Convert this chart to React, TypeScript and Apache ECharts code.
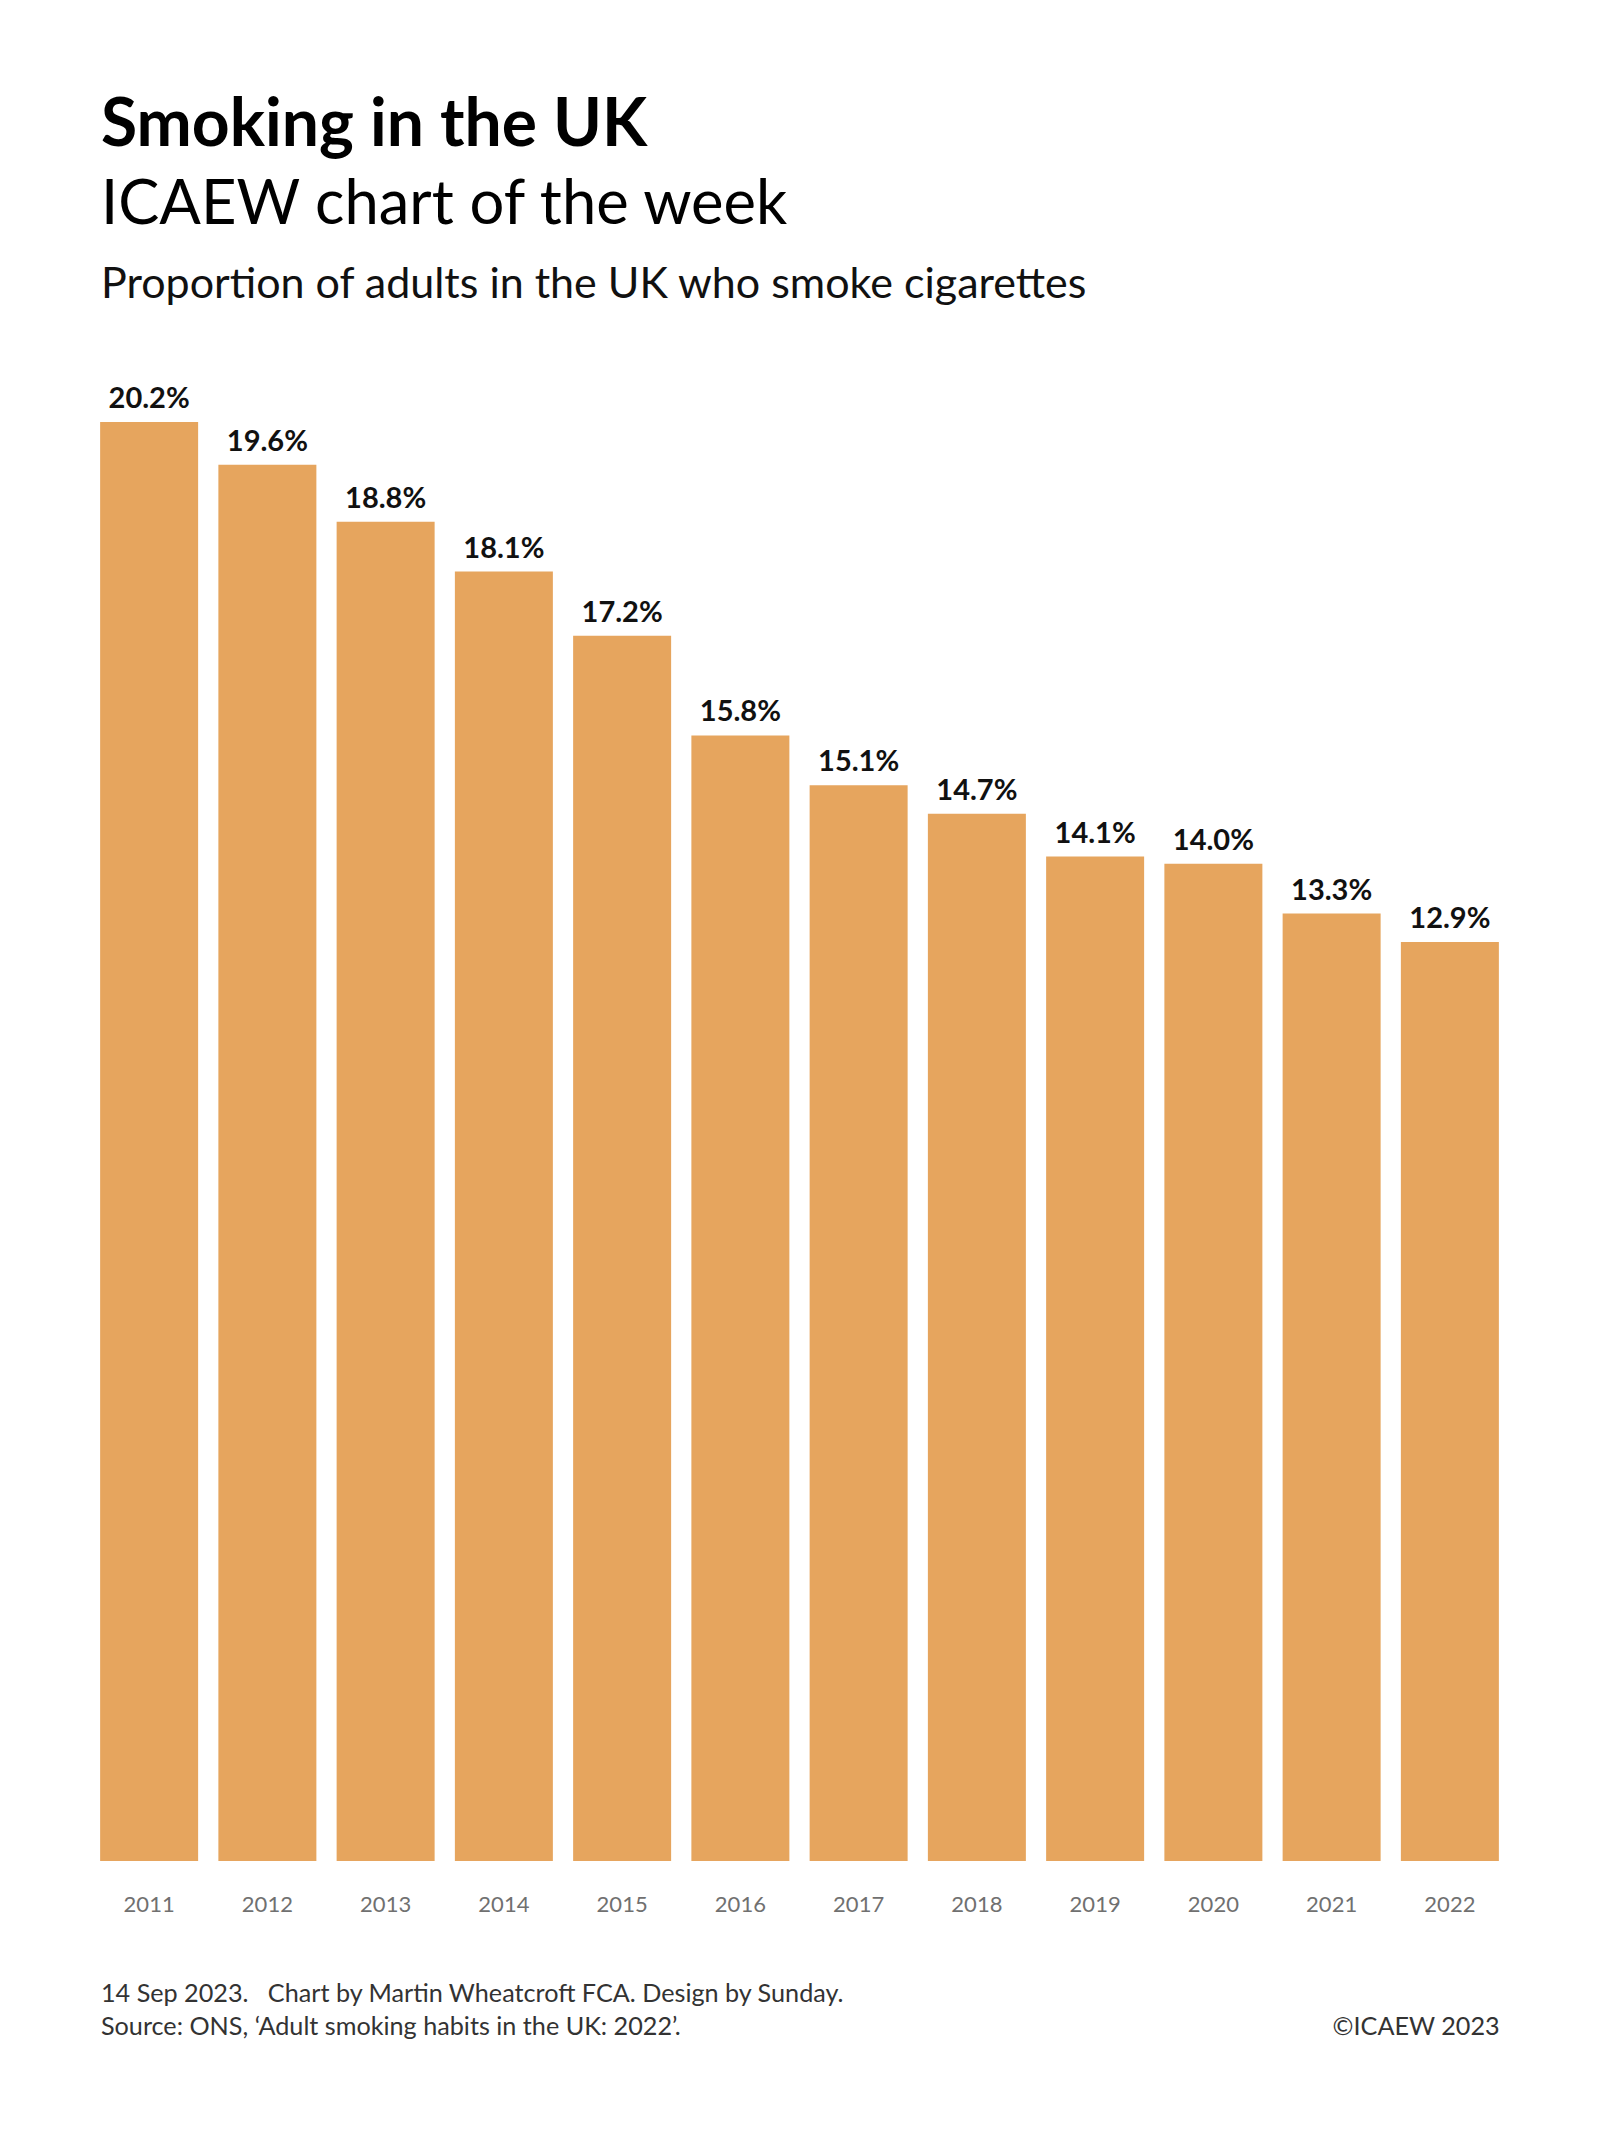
import React, { useEffect, useRef } from "react";
import * as echarts from "echarts";

const years = ["2011", "2012", "2013", "2014", "2015", "2016", "2017", "2018", "2019", "2020", "2021", "2022"];
const smokingShare = [20.2, 19.6, 18.8, 18.1, 17.2, 15.8, 15.1, 14.7, 14.1, 14.0, 13.3, 12.9];

const titleText = "Smoking in the UK";
const subtitleText = "ICAEW chart of the week";
const descText = "Proportion of adults in the UK who smoke cigarettes";
const footer1 = "14 Sep 2023.   Chart by Martin Wheatcroft FCA. Design by Sunday.";
const footer2 = "Source: ONS, \u2018Adult smoking habits in the UK: 2022\u2019.";
const copyright = "\u00A9ICAEW 2023";

const FONT = "Lato, 'Noto Sans', sans-serif";

export default function App() {
  const ref = useRef<HTMLDivElement>(null);
  useEffect(() => {
    document.body.style.margin = "0";
    const chart = echarts.init(ref.current!, null, { renderer: "svg" });
    chart.setOption({
      animation: false,
      backgroundColor: "#ffffff",
      textStyle: { fontFamily: FONT },
      grid: { left: 90, right: 91, top: 422, bottom: 272, containLabel: false },
      xAxis: {
        type: "category",
        data: years,
        axisLine: { show: false },
        axisTick: { show: false },
        axisLabel: { color: "#707070", fontSize: 22, margin: 31, fontFamily: FONT },
      },
      yAxis: {
        type: "value",
        min: 0,
        max: 20.2,
        show: false,
        splitLine: { show: false },
      },
      series: [
        {
          type: "bar",
          data: smokingShare,
          barWidth: 98,
          itemStyle: { color: "#E6A55E" },
          label: {
            show: true,
            position: "top",
            distance: 11,
            color: "#111111",
            fontSize: 29,
            fontWeight: "bold",
            fontFamily: FONT,
            formatter: (p: any) => Number(p.value).toFixed(1) + "%",
          },
        },
      ],
      graphic: [
        {
          type: "text",
          left: 101,
          top: 87,
          style: { text: titleText, fontSize: 66, fontWeight: "bold", fill: "#000", fontFamily: FONT },
        },
        {
          type: "text",
          left: 101,
          top: 169,
          style: { text: subtitleText, fontSize: 61.5, fontWeight: "normal", fill: "#000", fontFamily: FONT },
        },
        {
          type: "text",
          left: 101,
          top: 260,
          style: { text: descText, fontSize: 43, fontWeight: "normal", fill: "#111", fontFamily: FONT },
        },
        {
          type: "text",
          left: 101,
          top: 1979,
          style: { text: footer1, fontSize: 25.2, fill: "#333", fontFamily: FONT },
        },
        {
          type: "text",
          left: 101,
          top: 2012,
          style: { text: footer2, fontSize: 25.2, fill: "#333", fontFamily: FONT },
        },
        {
          type: "text",
          right: 100,
          top: 2012,
          style: { text: copyright, fontSize: 25.2, fill: "#333", fontFamily: FONT },
        },
      ],
    });
    return () => chart.dispose();
  }, []);
  return <div ref={ref} style={{ width: 1600, height: 2133 }} />;
}
